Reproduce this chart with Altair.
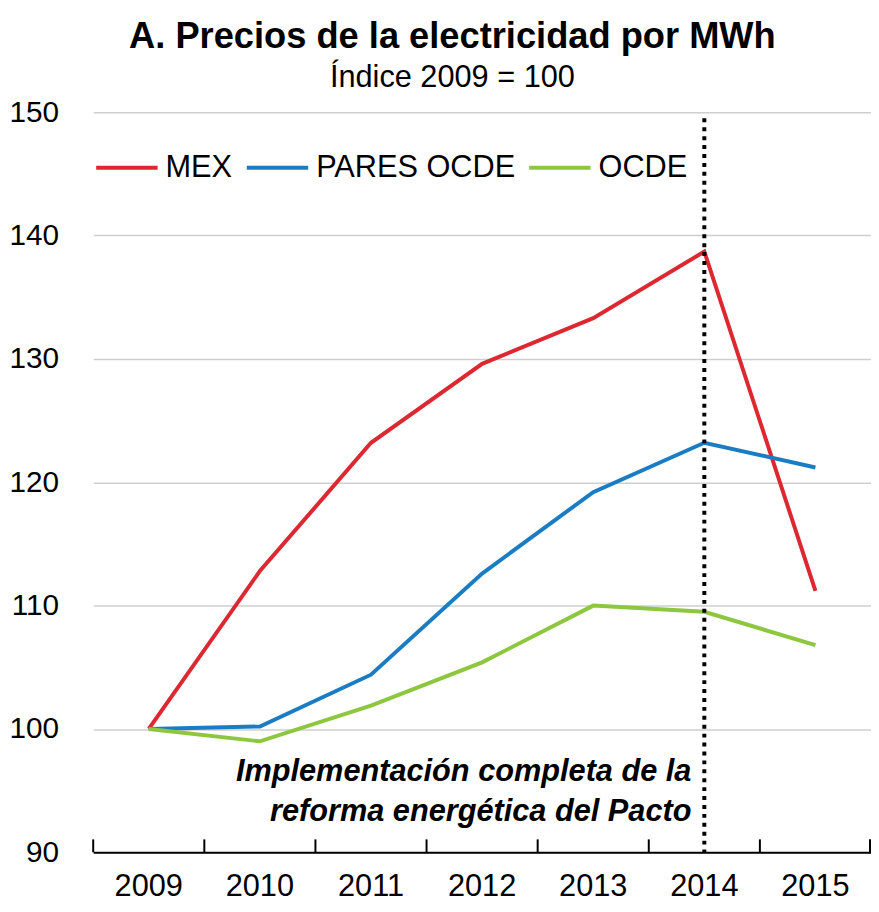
import altair as alt
import pandas as pd

years = ["2009", "2010", "2011", "2012", "2013", "2014", "2015"]
series_names = ["MEX", "PARES OCDE", "OCDE"]
mex = [100, 112.8, 123.2, 129.6, 133.3, 138.7, 111.2]
pares_ocde = [100, 100.2, 104.4, 112.6, 119.2, 123.2, 121.2]
ocde = [100, 99.0, 101.9, 105.4, 110.0, 109.5, 106.8]
colors = ["#DC2830", "#1A7DC4", "#8DC63F"]
y_ticks = [90, 100, 110, 120, 130, 140, 150]
marker_year = "2014"
annotation = ["Implementación completa de la", "reforma energética del Pacto"]

rows = []
for name, vals in zip(series_names, [mex, pares_ocde, ocde]):
    for yr, v in zip(years, vals):
        rows.append({"year": yr, "serie": name, "value": v})
df = pd.DataFrame(rows)
df_years = pd.DataFrame({"year": years})

FONT = "Liberation Sans Narrow, Arial Narrow, Liberation Sans, Arial, sans-serif"
W, H = 785, 747

xscale = alt.Scale(type="band", domain=years, paddingInner=0, paddingOuter=0)
yscale = alt.Scale(domain=[90, 150], nice=False, zero=False)

lines = alt.Chart(df).mark_line(strokeWidth=4).encode(
    x=alt.X("year:O", bandPosition=0.5, scale=xscale,
            axis=alt.Axis(title=None, labelAngle=0, ticks=False, grid=False,
                          domainColor="black", domainWidth=2,
                          labelFontSize=31, labelFont=FONT, labelColor="black",
                          labelPadding=20)),
    y=alt.Y("value:Q", scale=yscale,
            axis=alt.Axis(title=None, values=y_ticks, grid=True, domain=False,
                          ticks=False, gridColor="#cfcfcf", gridWidth=1.5,
                          labelFontSize=30, labelFont=FONT, labelColor="black",
                          labelPadding=35)),
    color=alt.Color("serie:N", sort=series_names,
                    scale=alt.Scale(domain=series_names, range=colors),
                    legend=alt.Legend(title=None, orient="none", direction="horizontal",
                                      legendX=1, legendY=23, padding=0,
                                      symbolType="stroke", symbolSize=3844,
                                      symbolStrokeWidth=4, labelFontSize=31,
                                      labelFont=FONT, labelColor="black",
                                      labelLimit=500, labelOffset=6,
                                      columnPadding=6)),
    detail="serie:N",
)

ticks = alt.Chart(df_years).mark_rule(color="black", strokeWidth=2).encode(
    x=alt.X("year:O", bandPosition=0, scale=xscale),
    y=alt.datum(90),
    y2=alt.datum(91.05),
)
end_tick = alt.Chart(pd.DataFrame({"k": [0]})).mark_rule(color="black", strokeWidth=2).encode(
    x=alt.value(W - 1),
    y=alt.datum(90),
    y2=alt.datum(91.05),
)

vline = alt.Chart(pd.DataFrame({"year": [marker_year]})).mark_rule(
    color="black", strokeWidth=4, strokeDash=[4, 5]
).encode(
    x=alt.X("year:O", bandPosition=0.5, scale=xscale),
    y=alt.datum(149.5),
    y2=alt.datum(90),
)

text = alt.Chart(pd.DataFrame({"year": [marker_year], "t": [annotation]})).mark_text(
    align="right", baseline="alphabetic", fontSize=31, fontStyle="italic",
    fontWeight="bold", font="Liberation Sans, Arial, sans-serif", color="black",
    dx=-13, lineHeight=41
).encode(
    x=alt.X("year:O", bandPosition=0.5, scale=xscale),
    y=alt.datum(95.8),
    text="t",
)

chart = alt.layer(lines, ticks, end_tick, vline, text).properties(
    width=W, height=H,
    autosize=alt.AutoSizeParams(type="none"),
    padding={"left": 86, "top": 101, "right": 0, "bottom": 48},
    title=alt.TitleParams(
        text="A. Precios de la electricidad por MWh",
        subtitle="Índice 2009 = 100",
        anchor="middle", dx=-30, offset=4,
        font=FONT, fontSize=36.6, fontWeight="bold", color="black",
        subtitleFont=FONT, subtitleFontSize=31, subtitleColor="black",
        subtitlePadding=8,
    ),
).configure_view(stroke=None)

chart.save("out.html", embed_options={"renderer": "svg", "actions": False})
